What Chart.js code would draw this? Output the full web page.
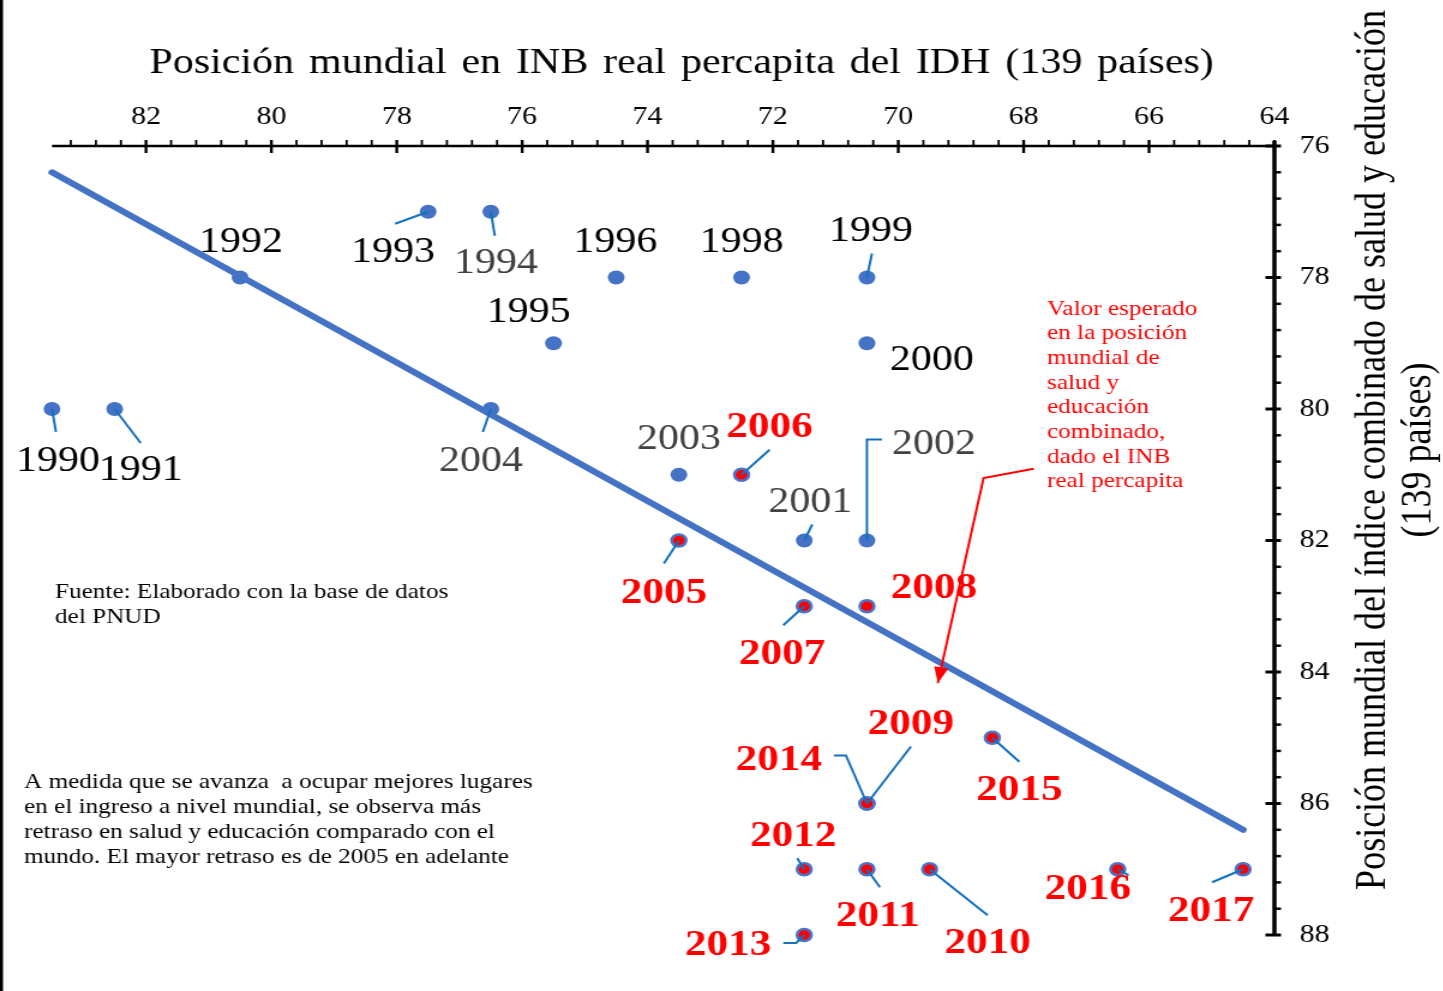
<!DOCTYPE html>
<html lang="es">
<head>
<meta charset="utf-8">
<title>Posición mundial INB vs salud y educación</title>
<script src="https://cdn.jsdelivr.net/npm/chart.js@4/dist/chart.umd.min.js"></script>
<style>
  html, body { margin: 0; padding: 0; background: #fff; overflow: hidden; }
  #wrap { width: 1443px; height: 991px; overflow: hidden; }
  /* el original viene estirado en horizontal */
  #chart { transform: scaleX(1.2); transform-origin: 0 0; }
</style>
</head>
<body>
<div id="wrap"><canvas id="chart" width="1203" height="991"></canvas></div>
<script>
// Posición mundial (139 países)
const years = [1990, 1991, 1992, 1993, 1994, 1995, 1996, 1998, 1999, 2000, 2001, 2002, 2003,
               2004, 2005, 2006, 2007, 2008, 2009, 2010, 2011, 2012, 2013, 2014, 2015, 2016, 2017];
const inbRank = [83.5, 82.5, 80.5, 77.5, 76.5, 75.5, 74.5, 72.5, 70.5, 70.5, 71.5, 70.5, 73.5,
                 76.5, 73.5, 72.5, 71.5, 70.5, 70.5, 69.5, 70.5, 71.5, 71.5, 70.5, 68.5, 66.5, 64.5];
const saludEduRank = [80, 80, 78, 77, 77, 79, 78, 78, 78, 79, 82, 82, 81,
                      80, 82, 81, 83, 83, 86, 87, 87, 87, 88, 86, 85, 87, 87];

// recta de valor esperado
const trendInb = [83.5, 64.5];
const trendSaludEdu = [76.4, 86.4];

// ejes
const xMin = 64, xMax = 83.5, yMin = 76, yMax = 88;
const majorStep = 2, minorStep = 0.4;

const xTitle = 'Posición mundial en INB real percapita del IDH (139 países)';
const yTitle = ['Posición mundial del índice combinado de salud y educación', '(139 países)'];

const notaRoja = ['Valor esperado', 'en la posición', 'mundial de', 'salud y', 'educación',
                  'combinado,', 'dado el INB', 'real percapita'];
const fuente = ['Fuente: Elaborado con la base de datos', 'del PNUD'];
const notaNegra = ['A medida que se avanza  a ocupar mejores lugares',
                   'en el ingreso a nivel mundial, se observa más',
                   'retraso en salud y educación comparado con el',
                   'mundo. El mayor retraso es de 2005 en adelante'];

const grayYears = [1994, 2001, 2002, 2003, 2004];

// ---- maquetación (px de pantalla, relativos al punto) ----
const SX = 1.2;
const SERIF = "'Liberation Serif', 'Times New Roman', serif";
const labelPos = {
  1990: { dx: 6, dy: 50, lead: [[4, 23]] },
  1991: { dx: 26, dy: 59, lead: [[26, 34]] },
  1992: { dx: 1, dy: -38 },
  1993: { dx: -35, dy: 38, lead: [[-33, 12]] },
  1994: { dx: 5, dy: 49, lead: [[4, 24]] },
  1995: { dx: -25, dy: -33 },
  1996: { dx: -1, dy: -38 },
  1998: { dx: 0, dy: -38 },
  1999: { dx: 4, dy: -49, lead: [[5, -24]] },
  2000: { dx: 65, dy: 15 },
  2001: { dx: 6, dy: -41, lead: [[8, -16]] },
  2002: { dx: 67, dy: -99, lead: [[0, -101], [15, -101]] },
  2003: { dx: 0, dy: -38 },
  2004: { dx: -10, dy: 50, lead: [[-8, 23]] },
  2005: { dx: -15, dy: 50, lead: [[-15, 23]] },
  2006: { dx: 28, dy: -50, lead: [[28, -25]] },
  2007: { dx: -22, dy: 45, lead: [[-21, 19]] },
  2008: { dx: 67, dy: -21 },
  2009: { dx: 44, dy: -82, lead: [[44, -57]] },
  2010: { dx: 58, dy: 71, lead: [[58, 46]] },
  2011: { dx: 11, dy: 44, lead: [[13, 18]] },
  2012: { dx: -11, dy: -36, lead: [[-7, -11]] },
  2013: { dx: -76, dy: 8, lead: [[-8, 8], [-21, 8]] },
  2014: { dx: -88, dy: -46, lead: [[-21, -48], [-33, -48]] },
  2015: { dx: 27, dy: 50, lead: [[27, 24]] },
  2016: { dx: -30, dy: 17, lead: [[11, 6]] },
  2017: { dx: -32, dy: 39, lead: [[-31, 13]] }
};
const LABEL_SHIFT = 3;
// flecha roja en coordenadas de datos
const arrowPath = [[67.84, 80.91], [68.64, 81.05], [69.37, 84.17]];

function fitText(ctx, text, x, y, target) {
  const spaces = (text.match(/ /g) || []).length;
  const w = ctx.measureText(text).width;
  if ('wordSpacing' in ctx && spaces) {
    ctx.wordSpacing = Math.max(0, Math.min(20, (target - w) / spaces)) + 'px';
  }
  ctx.fillText(text, x, y);
  if ('wordSpacing' in ctx) ctx.wordSpacing = '0px';
}

const decor = {
  id: 'decor',
  afterDatasetsDraw(chart) {
    const { ctx } = chart;
    const pts = chart.getDatasetMeta(0).data;
    ctx.save();
    ctx.strokeStyle = '#1471C0';
    ctx.lineWidth = 2;
    years.forEach((yr, i) => {
      const p = labelPos[yr];
      if (!p.lead) return;
      const el = pts[i];
      ctx.beginPath();
      ctx.moveTo(el.x, el.y);
      p.lead.forEach(([dx, dy]) => ctx.lineTo(el.x + dx / SX, el.y + dy));
      ctx.stroke();
    });
    ctx.textAlign = 'center';
    ctx.textBaseline = 'middle';
    years.forEach((yr, i) => {
      const p = labelPos[yr];
      const el = pts[i];
      if (yr >= 2005) {
        ctx.font = 'bold 36px ' + SERIF;
        ctx.fillStyle = '#FF0000';
      } else {
        ctx.font = '35px ' + SERIF;
        ctx.fillStyle = grayYears.includes(yr) ? '#404040' : '#000';
      }
      ctx.fillText(String(yr), el.x + p.dx / SX, el.y + p.dy + LABEL_SHIFT);
    });
    ctx.restore();
  },
  afterDraw(chart) {
    const { ctx, chartArea: a } = chart;
    const xs = chart.scales.x, ys = chart.scales.y;
    ctx.save();
    // borde izquierdo
    ctx.fillStyle = '#000';
    ctx.fillRect(0, 0, 2.5, chart.height);

    // eje x (arriba)
    ctx.strokeStyle = '#000';
    ctx.lineWidth = 2.5;
    ctx.beginPath(); ctx.moveTo(a.left, a.top); ctx.lineTo(a.right, a.top); ctx.stroke();
    for (let k = 0; xMin + k * minorStep <= xMax; k++) {
      const px = xs.getPixelForValue(xMin + k * minorStep);
      const major = k % 5 === 0;
      ctx.lineWidth = major ? 2.4 : 1.8;
      ctx.beginPath();
      ctx.moveTo(px, a.top - 6);
      ctx.lineTo(px, major ? a.top + 7 : a.top);
      ctx.stroke();
    }
    // eje y (derecha)
    ctx.lineWidth = 3.5;
    ctx.beginPath(); ctx.moveTo(a.right, a.top - 5); ctx.lineTo(a.right, a.bottom); ctx.stroke();
    for (let k = 0; yMin + k * minorStep <= yMax + 0.001; k++) {
      const py = ys.getPixelForValue(yMin + k * minorStep);
      const major = k % 5 === 0;
      ctx.lineWidth = major ? 3 : 2.5;
      ctx.beginPath();
      ctx.moveTo(major ? a.right - 7.5 : a.right, py);
      ctx.lineTo(a.right + 5.5, py);
      ctx.stroke();
    }

    // títulos
    ctx.fillStyle = '#000';
    ctx.textAlign = 'center';
    ctx.textBaseline = 'middle';
    ctx.font = '35px ' + SERIF;
    fitText(ctx, xTitle, 568, 64, 887);
    ctx.save();
    ctx.translate(1145, 450);
    ctx.rotate(-Math.PI / 2);
    ctx.font = '36px ' + SERIF;
    fitText(ctx, yTitle[0], 0, 0, 876);
    ctx.fillText(yTitle[1], 0, 38);
    ctx.restore();

    // notas
    ctx.textAlign = 'left';
    ctx.font = '21px ' + SERIF;
    ctx.fillStyle = '#FF0000';
    notaRoja.forEach((t, i) => ctx.fillText(t, 1047 / SX, 309 + i * 24.7));
    ctx.fillStyle = '#000';
    fuente.forEach((t, i) => ctx.fillText(t, 55 / SX, 592 + i * 25));
    notaNegra.forEach((t, i) => ctx.fillText(t, 24 / SX, 782 + i * 25));

    // flecha
    const pp = arrowPath.map(([x, y]) => [xs.getPixelForValue(x), ys.getPixelForValue(y)]);
    ctx.strokeStyle = '#FF0000';
    ctx.fillStyle = '#FF0000';
    ctx.lineWidth = 2;
    ctx.beginPath();
    ctx.moveTo(pp[0][0], pp[0][1]);
    for (let i = 1; i < pp.length; i++) ctx.lineTo(pp[i][0], pp[i][1]);
    ctx.stroke();
    const [bx, by] = pp[pp.length - 2], [tx, ty] = pp[pp.length - 1];
    const ang = Math.atan2(ty - by, tx - bx);
    ctx.beginPath();
    ctx.moveTo(tx, ty);
    ctx.lineTo(tx - 16 * Math.cos(ang) + 6 * Math.sin(ang), ty - 16 * Math.sin(ang) - 6 * Math.cos(ang));
    ctx.lineTo(tx - 16 * Math.cos(ang) - 6 * Math.sin(ang), ty - 16 * Math.sin(ang) + 6 * Math.cos(ang));
    ctx.closePath();
    ctx.fill();
    ctx.restore();
  }
};

const puntos = years.map((yr, i) => ({ x: inbRank[i], y: saludEduRank[i] }));
const recta = trendInb.map((x, i) => ({ x, y: trendSaludEdu[i] }));

new Chart(document.getElementById('chart'), {
  type: 'scatter',
  data: {
    datasets: [
      {
        label: 'Años',
        data: puntos,
        clip: false,
        pointRadius: ctx => years[ctx.dataIndex] >= 2005 ? 6 : 7,
        pointBackgroundColor: ctx => years[ctx.dataIndex] >= 2005 ? '#FF0000' : '#4472C4',
        pointBorderColor: '#4A74C8',
        pointBorderWidth: ctx => years[ctx.dataIndex] >= 2005 ? 2.5 : 0,
        order: 0
      },
      {
        label: 'Valor esperado',
        data: recta,
        showLine: true,
        pointRadius: 0,
        borderColor: '#4472C4',
        borderWidth: 6,
        borderCapStyle: 'round',
        clip: false,
        order: 1
      }
    ]
  },
  options: {
    responsive: false,
    devicePixelRatio: 1,
    animation: false,
    layout: { padding: { left: 43.3, right: 0, top: 0, bottom: 56 } },
    plugins: {
      legend: { display: false },
      tooltip: { enabled: false }
    },
    scales: {
      x: {
        type: 'linear',
        position: 'top',
        reverse: true,
        min: xMin,
        max: xMax,
        afterFit: s => { s.height = 146; },
        grid: { display: false, drawTicks: false },
        border: { display: false },
        ticks: {
          stepSize: majorStep,
          includeBounds: false,
          maxRotation: 0,
          autoSkip: false,
          padding: 14,
          color: '#000',
          font: { family: SERIF, size: 25 }
        }
      },
      y: {
        type: 'linear',
        position: 'right',
        reverse: true,
        min: yMin,
        max: yMax,
        afterFit: s => { s.width = 141; },
        grid: { display: false, drawTicks: false },
        border: { display: false },
        ticks: {
          stepSize: majorStep,
          includeBounds: false,
          padding: 21,
          color: '#000',
          font: { family: SERIF, size: 25 }
        }
      }
    }
  },
  plugins: [decor]
});
</script>
</body>
</html>
